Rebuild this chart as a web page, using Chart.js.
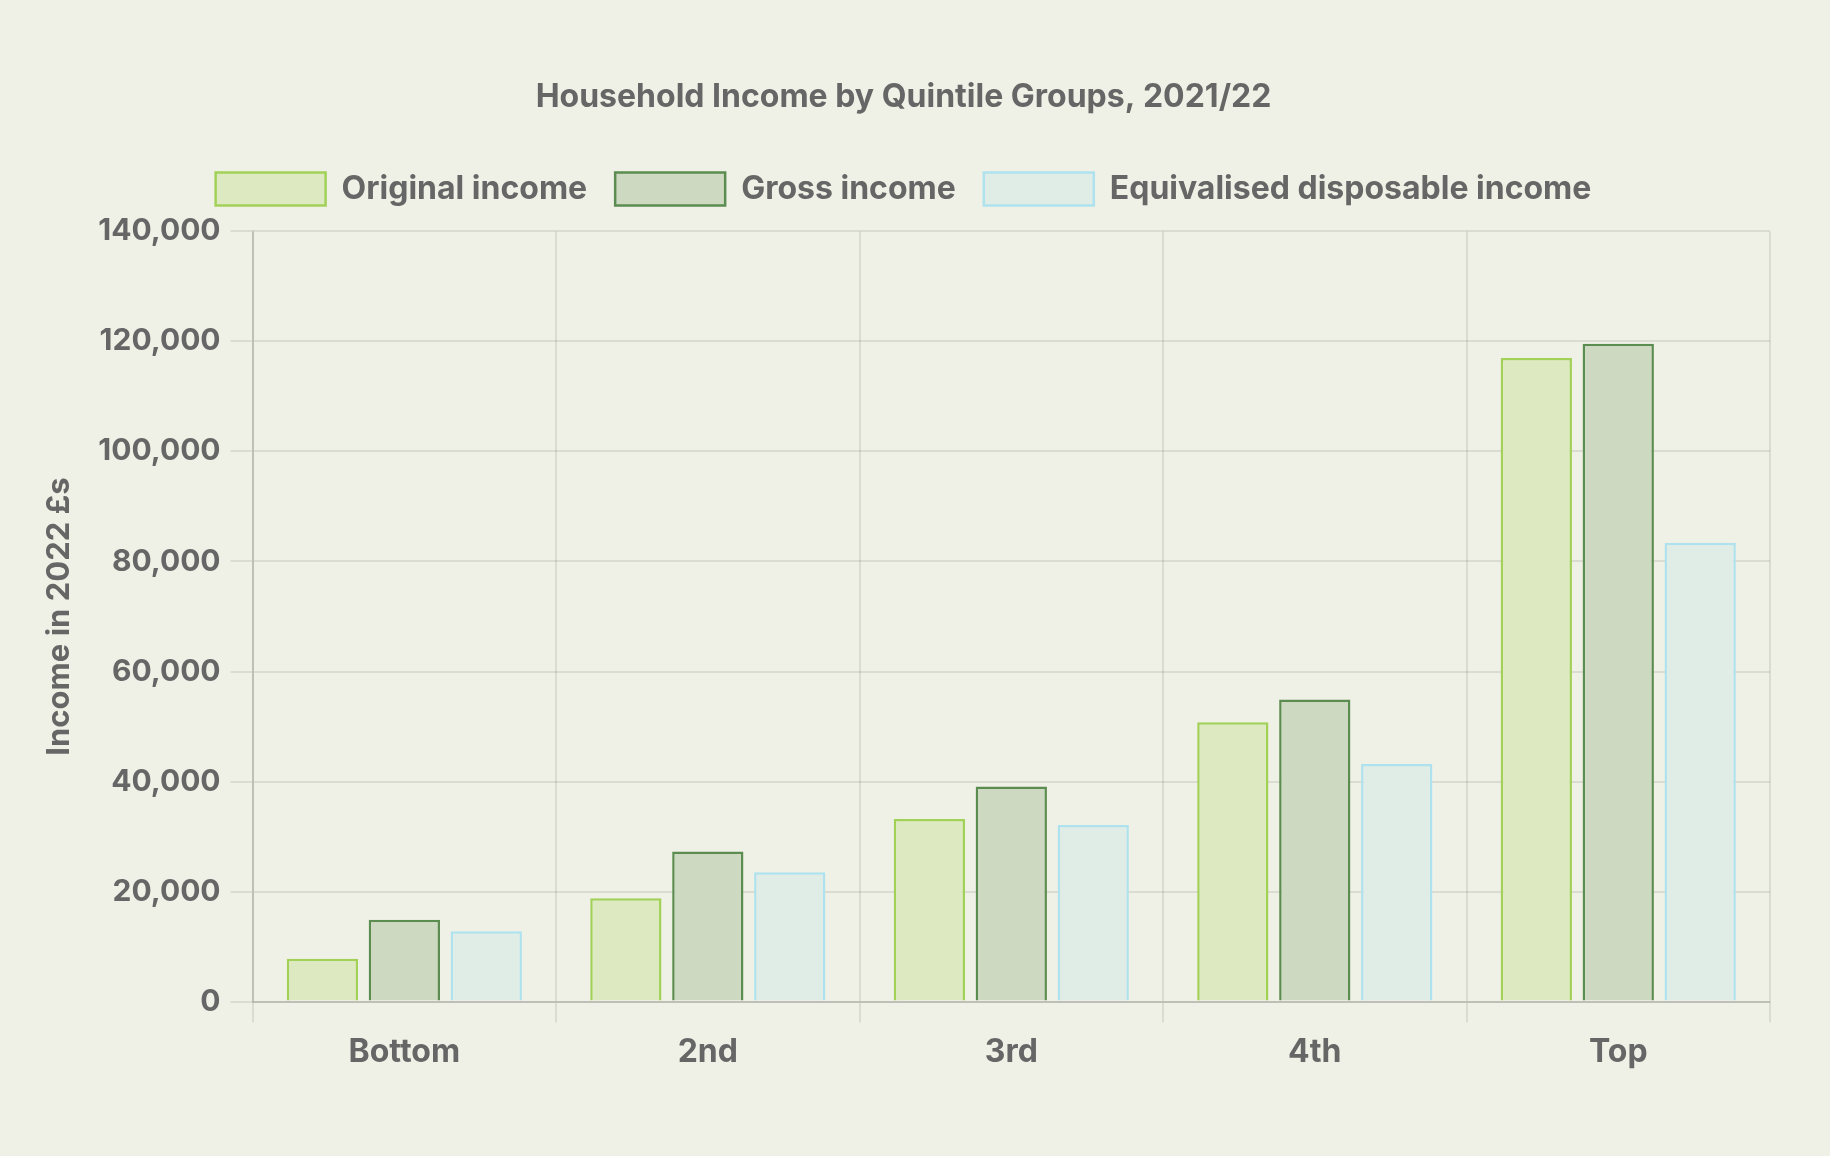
<!DOCTYPE html>
<html>
<head>
<meta charset="utf-8">
<script src="https://cdn.jsdelivr.net/npm/chart.js@4"></script>
<style>
  body { margin: 0; background: #f0f1e6; }
  #wrap { width: 1830px; height: 1156px; }
</style>
</head>
<body>
<div id="wrap"><canvas id="myChart"></canvas></div>
<script>
// quintile groups
const categories = ['Bottom', '2nd', '3rd', '4th', 'Top'];

// values in 2022 £s
const originalIncome = [7800, 18800, 33200, 50800, 117000];
const grossIncome = [14900, 27300, 39100, 54900, 119600];
const equivalisedIncome = [12800, 23500, 32100, 43200, 83400];

const textColor = '#666';
const fontFamily = 'Inter, "Noto Sans", sans-serif';

// a bit of extra room under the legend
const legendMargin = {
    id: 'legendMargin',
    beforeInit(chart) {
        const fit = chart.legend.fit;
        chart.legend.fit = function () {
            fit.bind(chart.legend)();
            this.height += 16;
        };
    }
};

const ctx = document.getElementById('myChart').getContext('2d');

new Chart(ctx, {
    type: 'bar',
    data: {
        labels: categories,
        datasets: [
            {
                label: 'Original income',
                data: originalIncome,
                backgroundColor: '#dde9c1',
                borderColor: '#a2d158',
                borderWidth: 2.5
            },
            {
                label: 'Gross income',
                data: grossIncome,
                backgroundColor: '#ced9c2',
                borderColor: '#5b8c50',
                borderWidth: 2.5
            },
            {
                label: 'Equivalised disposable income',
                data: equivalisedIncome,
                backgroundColor: '#e0ece6',
                borderColor: '#ade2ee',
                borderWidth: 2.5
            }
        ]
    },
    plugins: [legendMargin],
    options: {
        responsive: true,
        maintainAspectRatio: false,
        animation: false,
        locale: 'en-US',
        categoryPercentage: 0.81,
        barPercentage: 0.87,
        layout: {
            padding: { top: 58, left: 37, right: 60, bottom: 73 }
        },
        plugins: {
            title: {
                display: true,
                text: 'Household Income by Quintile Groups, 2021/22',
                color: textColor,
                font: { family: fontFamily, size: 32, weight: '700' },
                padding: { top: 20, bottom: 28 }
            },
            legend: {
                labels: {
                    color: textColor,
                    boxWidth: 110,
                    boxHeight: 33,
                    padding: 28,
                    font: { family: fontFamily, size: 32, weight: '700' }
                }
            },
            tooltip: { enabled: false }
        },
        scales: {
            x: {
                grid: { color: 'rgba(0,0,0,0.09)', lineWidth: 2, tickLength: 21 },
                border: { color: 'rgba(0,0,0,0.13)', width: 2 },
                ticks: {
                    color: textColor,
                    padding: 11,
                    font: { family: fontFamily, size: 32, weight: '700' }
                }
            },
            y: {
                min: 0,
                max: 140000,
                ticks: {
                    stepSize: 20000,
                    color: textColor,
                    padding: 10,
                    font: { family: fontFamily, size: 30, weight: '700' }
                },
                grid: { color: 'rgba(0,0,0,0.09)', lineWidth: 2, tickLength: 22 },
                border: { color: 'rgba(0,0,0,0.13)', width: 2 },
                title: {
                    display: true,
                    text: 'Income in 2022 £s',
                    color: textColor,
                    padding: { top: 4, bottom: 10 },
                    font: { family: fontFamily, size: 31, weight: '700' }
                }
            }
        }
    }
});
</script>
</body>
</html>
